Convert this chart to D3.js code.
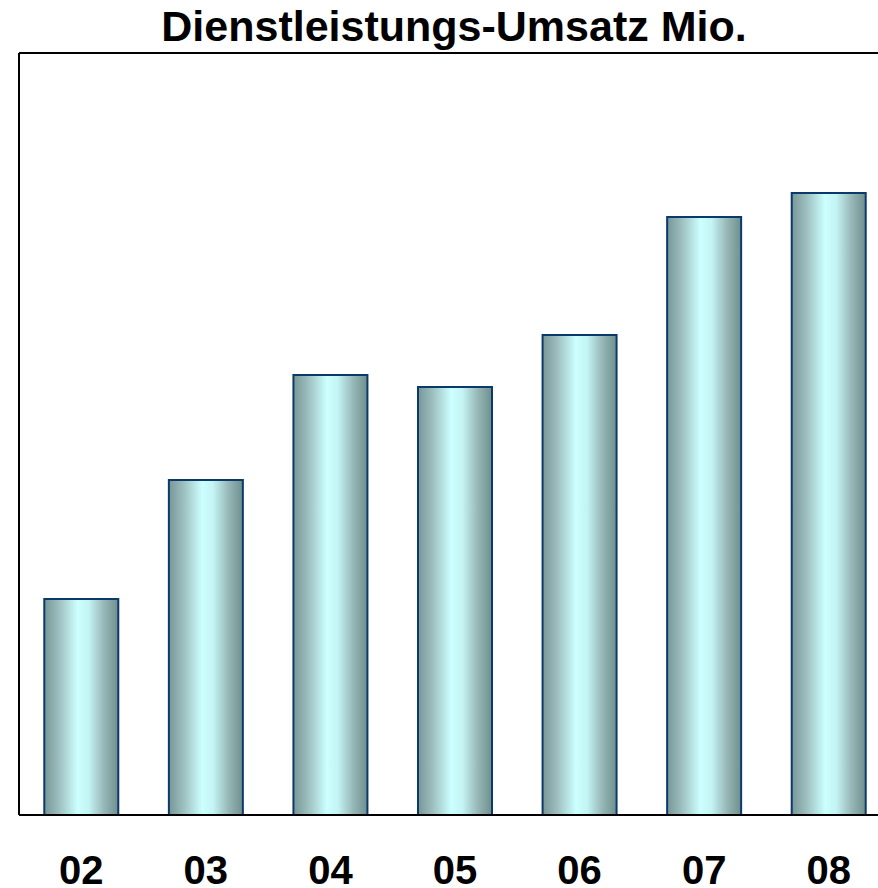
<!DOCTYPE html>
<html>
<head>
<meta charset="utf-8">
<script src="https://cdn.jsdelivr.net/npm/d3@7"></script>
<style>
  body { margin: 0; background: #fff; }
  text { font-family: Arial, "Liberation Sans", sans-serif; font-weight: bold; }
</style>
</head>
<body>
<div id="graph"></div>
<script>
var title = 'Dienstleistungs-Umsatz Mio.'
var years = ['02', '03', '04', '05', '06', '07', '08']
var umsatz = [216, 335, 440, 428, 480, 598, 622]

var W = 878, H = 888
var margin = {left: 19, top: 53, right: -13, bottom: 73}
var width = W - margin.left - margin.right
var height = H - margin.top - margin.bottom

var svg = d3.select('#graph').append('svg')
  .attr('width', W).attr('height', H)

var defs = svg.append('defs')
var grad = defs.append('linearGradient').attr('id', 'barGrad')
  .attr('x1', 0).attr('x2', 1).attr('y1', 0).attr('y2', 0)
grad.selectAll('stop')
  .data([
    {o: 0, c: '#779797'},
    {o: 0.2, c: '#9ebfbf'},
    {o: 0.45, c: '#ccffff'},
    {o: 0.6, c: '#c4f4f4'},
    {o: 0.8, c: '#99b9b9'},
    {o: 1, c: '#6f8f8f'}
  ])
  .enter().append('stop')
  .attr('offset', d => d.o)
  .attr('stop-color', d => d.c)

var g = svg.append('g').attr('transform', 'translate(' + margin.left + ',' + margin.top + ')')

var x = d3.scaleBand().domain(years).range([0, width]).paddingInner(0.406).paddingOuter(0.203)
var y = d3.scaleLinear().domain([0, 762]).range([height, 0])

// frame: left, top, bottom
g.append('line').attr('x1', 0).attr('x2', W).attr('y1', 0).attr('y2', 0)
  .attr('stroke', '#000').attr('stroke-width', 2)
g.append('line').attr('x1', 0).attr('x2', 0).attr('y1', 0).attr('y2', height)
  .attr('stroke', '#000').attr('stroke-width', 2)

g.selectAll('rect.bar')
  .data(umsatz)
  .enter().append('rect')
  .attr('class', 'bar')
  .attr('x', (d, i) => x(years[i]))
  .attr('y', d => y(d))
  .attr('width', x.bandwidth())
  .attr('height', d => height - y(d))
  .attr('fill', 'url(#barGrad)')
  .attr('stroke', '#0a3a6a')
  .attr('stroke-width', 2)

var xAxis = g.append('g').attr('transform', 'translate(0,' + height + ')')
  .call(d3.axisBottom(x).tickSize(0))
xAxis.select('.domain').attr('d', 'M0,0H' + W).attr('stroke', '#000').attr('stroke-width', 2)
xAxis.selectAll('text').attr('y', 69).attr('dy', 0)
  .attr('font-size', 40).attr('fill', '#000')
  .attr('font-family', 'Arial, "Liberation Sans", sans-serif').attr('font-weight', 'bold')

svg.append('text')
  .attr('x', 454).attr('y', 41)
  .attr('text-anchor', 'middle')
  .attr('font-size', 43)
  .text(title)
</script>
</body>
</html>
